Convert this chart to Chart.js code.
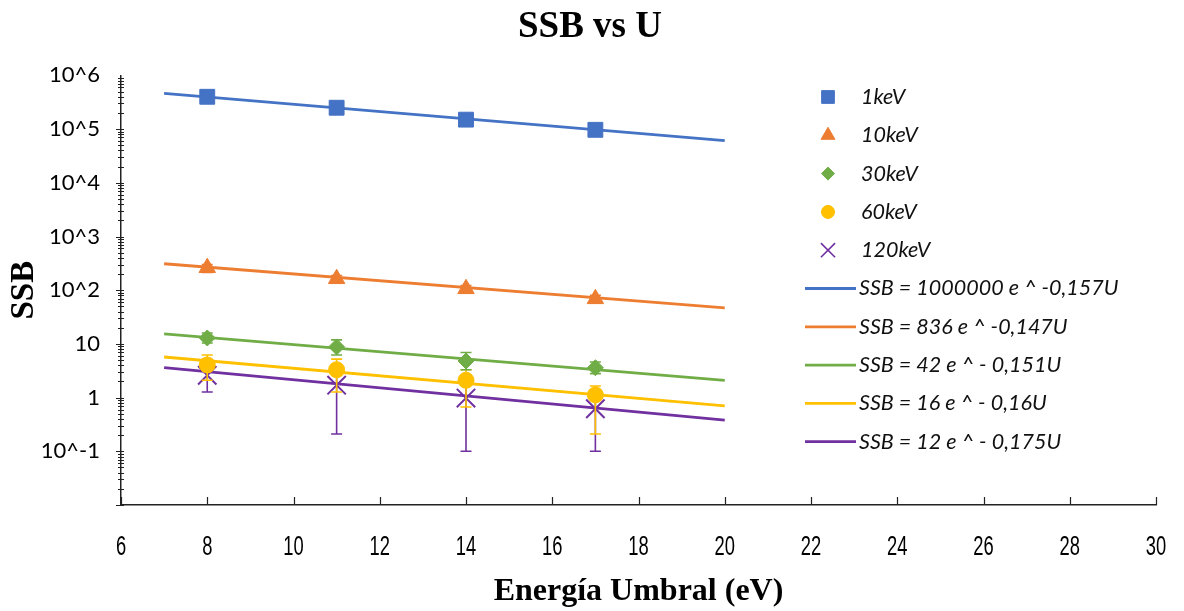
<!DOCTYPE html>
<html><head><meta charset="utf-8">
<script src="https://cdn.jsdelivr.net/npm/chart.js@4/dist/chart.umd.min.js"></script>
<style>html,body{margin:0;padding:0;background:#fff}#wrap{width:1184px;height:611px;position:relative}</style>
</head><body><div id="wrap"><canvas id="c" width="1184" height="611"></canvas></div>
<script>
// ---- data ----
const energies = [8, 11, 14, 17];
const ssb1keV   = [400000, 250000, 150000, 97000];
const ssb10keV  = [262, 163, 106, 69];
const ssb30keV  = [12.9, 8.8, 4.8, 3.6];
const ssb60keV  = [4.05, 3.3, 2.1, 1.12];
const ssb120keV = [2.6, 1.7, 0.98, 0.62];

const errLow1keV   = [380000, 238000, 143000, 92000];
const errHigh1keV  = [420000, 262000, 157000, 102000];
const errLow10keV  = [215, 135, 88, 57];
const errHigh10keV = [300, 188, 122, 80];
const errLow30keV  = [10.4, 6.2, 3.3, 2.8];
const errHigh30keV = [16, 11.9, 6.9, 4.6];
const errLow60keV  = [2.1, 1.27, 0.67, 0.21];
const errHigh60keV = [6.2, 5.2, 3.3, 1.64];
const errLow120keV = [1.27, 0.21, 0.1, 0.1];
const errHigh120keV= [5.1, 4.1, 2.6, 1.4];

const fitX = [7, 20];
const fit1keV   = [462000, 61000];
const fit10keV  = [311, 47];
const fit30keV  = [15.4, 2.1];
const fit60keV  = [5.7, 0.70];
const fit120keV = [3.6, 0.38];

const seriesNames = ['1keV', '10keV', '30keV', '60keV', '120keV'];
const fitNames = ['SSB = 1000000 e ^ -0,157U', 'SSB = 836 e ^ -0,147U', 'SSB = 42 e ^ - 0,151U', 'SSB = 16 e ^ - 0,16U', 'SSB = 12 e ^ - 0,175U'];
const colors = ['#4472C4', '#ED7D31', '#70AD47', '#FFC000', '#7030A0'];
const markerStyles = ['rect', 'triangle', 'rectRot', 'circle', 'crossRot'];
const markerSizes = [10.5, 9.5, 8, 8, 13];

const yTickValues = [1e6, 1e5, 1e4, 1e3, 1e2, 10, 1, 0.1];
const yTickLabels = ['10^6', '10^5', '10^4', '10^3', '10^2', '10', '1', '10^-1'];
const xTickValues = [6, 8, 10, 12, 14, 16, 18, 20, 22, 24, 26, 28, 30];

const pointSeries = [ssb1keV, ssb10keV, ssb30keV, ssb60keV, ssb120keV];
const lowSeries = [errLow1keV, errLow10keV, errLow30keV, errLow60keV, errLow120keV];
const highSeries = [errHigh1keV, errHigh10keV, errHigh30keV, errHigh60keV, errHigh120keV];
const fitSeries = [fit1keV, fit10keV, fit30keV, fit60keV, fit120keV];

const datasets = [];
pointSeries.forEach((vals, i) => {
  datasets.push({
    type: 'scatter', label: seriesNames[i],
    data: energies.map((x, j) => ({x: x, y: vals[j]})),
    errLow: lowSeries[i], errHigh: highSeries[i],
    backgroundColor: colors[i], borderColor: colors[i],
    pointStyle: markerStyles[i], pointRadius: markerSizes[i],
    pointBorderWidth: markerStyles[i] === 'crossRot' ? 2 : 1,
    showLine: false, order: 1 + i
  });
});
fitSeries.forEach((vals, i) => {
  datasets.push({
    type: 'line', label: fitNames[i],
    data: fitX.map((x, j) => ({x: x, y: vals[j]})),
    borderColor: colors[i], backgroundColor: colors[i],
    borderWidth: 2.8, pointRadius: 0, fill: false, tension: 0, order: 20
  });
});

const errorBars = {
  id: 'errorBars',
  beforeDatasetDraw(chart, args) {
    const ds = chart.data.datasets[args.index];
    if (!ds.errLow) return;
    const ctx = chart.ctx, ys = chart.scales.y;
    ctx.save();
    ctx.strokeStyle = ds.borderColor; ctx.lineWidth = 1.6;
    args.meta.data.forEach((pt, j) => {
      const yl = ys.getPixelForValue(ds.errLow[j]);
      const yh = ys.getPixelForValue(ds.errHigh[j]);
      ctx.beginPath();
      ctx.moveTo(pt.x, yl); ctx.lineTo(pt.x, yh);
      ctx.moveTo(pt.x - 5.5, yl); ctx.lineTo(pt.x + 5.5, yl);
      ctx.moveTo(pt.x - 5.5, yh); ctx.lineTo(pt.x + 5.5, yh);
      ctx.stroke();
    });
    ctx.restore();
  }
};

const axisDecor = {
  id: 'axisDecor',
  afterDraw(chart) {
    const ctx = chart.ctx, xs = chart.scales.x, ys = chart.scales.y, a = chart.chartArea;
    ctx.save();
    ctx.strokeStyle = '#222'; ctx.lineWidth = 1.2;
    ctx.beginPath();
    xTickValues.forEach(v => {
      const px = Math.round(xs.getPixelForValue(v)) + 0.5;
      ctx.moveTo(px, a.bottom); ctx.lineTo(px, a.bottom - 8);
    });
    for (let e = -2; e < 6; e++) {
      for (let m = 1; m < 10; m++) {
        const py = Math.round(ys.getPixelForValue(m * Math.pow(10, e))) + 0.5;
        const len = m === 1 ? 5 : 3;
        ctx.moveTo(a.left - len, py); ctx.lineTo(a.left + 3, py);
      }
    }
    ctx.stroke();
    // x tick labels (condensed)
    ctx.fillStyle = '#000';
    ctx.font = '27px "Liberation Sans", Arial, sans-serif';
    ctx.textAlign = 'center'; ctx.textBaseline = 'middle';
    xTickValues.forEach(v => {
      const px = xs.getPixelForValue(v);
      ctx.save();
      ctx.translate(px, 548);
      ctx.scale(0.68, 1);
      ctx.fillText(String(v), 0, 0);
      ctx.restore();
    });
    ctx.restore();
  }
};

const customLegend = {
  id: 'customLegend',
  afterDraw(chart) {
    const ctx = chart.ctx;
    const y0 = 97, dy = 38.3, mx = 828, tx = 861;
    ctx.save();
    ctx.font = 'italic 21.5px Lato, "Open Sans", sans-serif';
    ctx.textBaseline = 'middle'; ctx.textAlign = 'left';
    for (let i = 0; i < 5; i++) {
      const y = y0 + i * dy;
      ctx.fillStyle = colors[i]; ctx.strokeStyle = colors[i];
      ctx.lineWidth = markerStyles[i] === 'crossRot' ? 1.6 : 1;
      const r = markerStyles[i] === 'crossRot' ? 10 : markerSizes[i] - 1.5;
      Chart.helpers.drawPoint(ctx, {pointStyle: markerStyles[i], radius: r, borderWidth: ctx.lineWidth, rotation: 0}, mx, y);
      ctx.fillStyle = '#111';
      ctx.fillText(seriesNames[i], tx, y);
    }
    for (let i = 0; i < 5; i++) {
      const y = y0 + (i + 5) * dy;
      ctx.strokeStyle = colors[i]; ctx.lineWidth = 2.8;
      ctx.beginPath(); ctx.moveTo(805, y); ctx.lineTo(856, y); ctx.stroke();
      ctx.fillStyle = '#111';
      ctx.fillText(fitNames[i], tx - 2, y);
    }
    ctx.restore();
  }
};

new Chart(document.getElementById('c'), {
  data: {datasets: datasets},
  plugins: [errorBars, axisDecor, customLegend],
  options: {
    responsive: false, animation: false, devicePixelRatio: 1,
    layout: {padding: {left: 24, right: 28, top: 0, bottom: 0}},
    plugins: {
      legend: {display: false}, tooltip: {enabled: false},
      title: {display: true, text: 'SSB vs U', color: '#000',
        font: {family: '"Liberation Serif", "Times New Roman", serif', size: 37, weight: 'bold'},
        padding: {top: 5, bottom: 26}}
    },
    scales: {
      x: {
        type: 'linear', min: 6, max: 30,
        afterBuildTicks: s => { s.ticks = xTickValues.map(v => ({value: v})); },
        afterFit: s => { s.height = 106; },
        ticks: {display: false},
        grid: {display: false},
        border: {display: true, color: '#222', width: 1.5},
        title: {display: true, text: 'Energía Umbral (eV)', color: '#000',
          font: {family: '"Liberation Serif", "Times New Roman", serif', size: 32, weight: 'bold'},
          padding: {top: 0, bottom: 0}}
      },
      y: {
        type: 'logarithmic', min: 0.01, max: 1e6,
        afterBuildTicks: s => { s.ticks = yTickValues.map(v => ({value: v})); },
        afterFit: s => { s.width = 97; },
        ticks: {color: '#000', padding: 13,
          font: {family: 'Lato, "Open Sans", sans-serif', size: 22},
          callback: v => { const k = yTickValues.indexOf(v); return k >= 0 ? yTickLabels[k] : ''; }},
        grid: {display: false},
        border: {display: true, color: '#222', width: 1.5},
        title: {display: true, text: 'SSB', color: '#000',
          font: {family: '"Liberation Serif", "Times New Roman", serif', size: 33, weight: 'bold'},
          padding: {top: -19, bottom: 0}}
      }
    }
  }
});
</script></body></html>
